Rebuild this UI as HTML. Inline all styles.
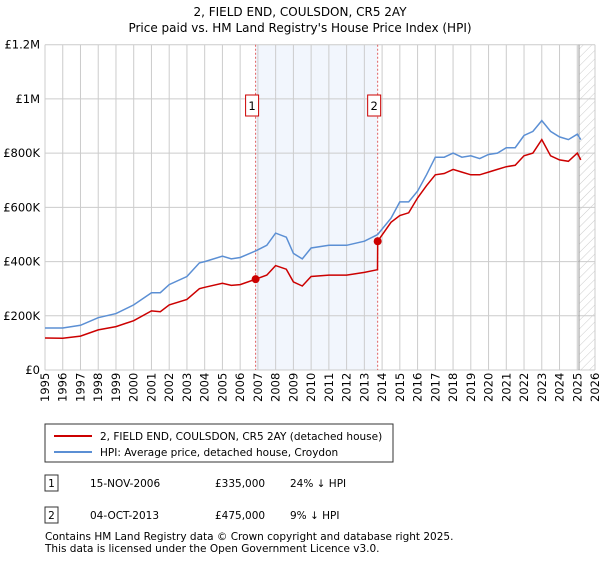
<!DOCTYPE html>
<html><head><meta charset="utf-8"><style>
body{margin:0;background:#fff;font-family:"DejaVu Sans","Liberation Sans",sans-serif;}
svg text{font-family:"DejaVu Sans","Liberation Sans",sans-serif;}
</style></head><body>
<svg width="600" height="560" id="c">
<defs><pattern id="hatch" patternUnits="userSpaceOnUse" width="6" height="6" patternTransform="rotate(45)"><line x1="0" y1="0" x2="0" y2="6" stroke="#ccc" stroke-width="1"/></pattern></defs>
<text x="300" y="16" text-anchor="middle" font-size="12">2, FIELD END, COULSDON, CR5 2AY</text>
<text x="300" y="32" text-anchor="middle" font-size="12">Price paid vs. HM Land Registry's House Price Index (HPI)</text>
<g id="grid"></g><g id="marks"></g>
<g>
<rect x="45" y="424" width="348" height="38" fill="#fff" stroke="#333"/>
<line x1="54" y1="436" x2="92" y2="436" stroke="#cc0000" stroke-width="2"/>
<text x="100" y="440" font-size="10.5">2, FIELD END, COULSDON, CR5 2AY (detached house)</text>
<line x1="54" y1="452" x2="92" y2="452" stroke="#5b8fd4" stroke-width="2"/>
<text x="100" y="456" font-size="10.5">HPI: Average price, detached house, Croydon</text>
</g>
<g font-size="10.5">
<rect x="45" y="475" width="13" height="16" fill="#fff" stroke="#333"/><text x="51.5" y="487" text-anchor="middle">1</text>
<text x="90" y="487">15-NOV-2006</text><text x="215" y="487">£335,000</text><text x="290" y="487">24% ↓ HPI</text>
<rect x="45" y="507" width="13" height="16" fill="#fff" stroke="#333"/><text x="51.5" y="519" text-anchor="middle">2</text>
<text x="90" y="519">04-OCT-2013</text><text x="215" y="519">£475,000</text><text x="290" y="519">9% ↓ HPI</text>
</g>
<text x="45" y="540" font-size="10.5">Contains HM Land Registry data © Crown copyright and database right 2025.</text>
<text x="45" y="552" font-size="10.5">This data is licensed under the Open Government Licence v3.0.</text>
</svg>
<script>
const hpiYears=[1995,1996,1997,1998,1999,2000,2001,2001.5,2002,2003,2003.7,2004,2005,2005.5,2006,2006.9,2007.5,2008,2008.6,2009,2009.5,2010,2011,2012,2013,2013.75,2014.5,2015,2015.5,2016,2016.5,2017,2017.5,2018,2018.5,2019,2019.5,2020,2020.5,2021,2021.5,2022,2022.5,2023,2023.5,2024,2024.5,2025,2025.2];
const hpiValues=[155,155,165,193,208,240,285,285,315,345,395,400,420,410,415,440,460,505,490,430,410,450,460,460,475,500,560,620,620,660,720,785,785,800,785,790,780,795,800,820,820,865,880,920,880,860,850,870,850];
const priceYears=[1995,1996,1997,1998,1999,2000,2001,2001.5,2002,2003,2003.7,2004,2005,2005.5,2006,2006.87,2007.5,2008,2008.6,2009,2009.5,2010,2011,2012,2013,2013.74,2013.75,2014.5,2015,2015.5,2016,2016.5,2017,2017.5,2018,2018.5,2019,2019.5,2020,2020.5,2021,2021.5,2022,2022.5,2023,2023.5,2024,2024.5,2025,2025.2];
const priceValues=[118,117,125,148,160,182,218,215,240,260,300,305,320,312,315,335,350,385,372,325,310,345,350,350,360,370,475,545,570,580,635,680,720,725,740,730,720,720,730,740,750,755,790,800,850,790,775,770,800,775];
const saleYears=[2006.87,2013.75];
const saleValues=[335,475];
const saleLabels=["1","2"];
const yTicks=[0,200,400,600,800,1000,1200];
const yTickLabels=["£0","£200K","£400K","£600K","£800K","£1M","£1.2M"];
const xTicks=[1995,1996,1997,1998,1999,2000,2001,2002,2003,2004,2005,2006,2007,2008,2009,2010,2011,2012,2013,2014,2015,2016,2017,2018,2019,2020,2021,2022,2023,2024,2025,2026];
const L=45,R=595,T=44.7,B=370,X0=1995,X1=2026;
const x=v=>L+(v-X0)/(X1-X0)*(R-L);
const y=v=>B-v/1200*(B-T);
const NS="http://www.w3.org/2000/svg";
function mk(p,tag,a){const e=document.createElementNS(NS,tag);for(const k in a)e.setAttribute(k,a[k]);p.appendChild(e);return e;}
const g=document.getElementById('grid'),m=document.getElementById('marks');
let sh=mk(g,'rect',{x:x(saleYears[0]),y:T,width:x(saleYears[1])-x(saleYears[0]),height:B-T,fill:'#f2f6fd'});


let hz=mk(g,'rect',{x:x(2025.1),y:T,width:R-x(2025.1),height:B-T,fill:'url(#hatch)'});


xTicks.forEach(t=>{
 const l=mk(g,'line',{x1:x(t),x2:x(t),y1:T,y2:B,stroke:'#ccc','stroke-width':1});
 
 
 const tx=mk(g,'text',{x:0,y:0,'font-size':11.5,transform:`translate(${x(t)+4},${B+32}) rotate(-90)`});
 tx.textContent=t;
 
 
});
yTicks.forEach((t,i)=>{
 const l=mk(g,'line',{x1:L,x2:R,y1:y(t),y2:y(t),stroke:'#ccc','stroke-width':1});
 
 
 const tx=mk(g,'text',{x:L-5,y:y(t)+4,'font-size':11.5,'text-anchor':'end'});
 tx.textContent=yTickLabels[i];
 
 
});
let fl=mk(g,'line',{x1:x(2025.1),x2:x(2025.1),y1:T,y2:B,stroke:'#999','stroke-width':1});


saleYears.forEach((s,i)=>{
 const l=mk(g,'line',{x1:x(s),x2:x(s),y1:T,y2:B,stroke:'#e06060','stroke-width':1,'stroke-dasharray':'2,2'});
 
 
 const bx=mk(m,'rect',{x:x(s)-10,y:95,width:13,height:21,fill:'#fff',stroke:'#cc0000'});
 
 
 const tx=mk(m,'text',{x:x(s)-3.5,y:110,'font-size':11.5,'text-anchor':'middle'});
 tx.textContent=saleLabels[i];
 
 
});
const path=(xs,vs)=>xs.map((v,i)=>(i?'L':'M')+x(v).toFixed(1)+','+y(vs[i]).toFixed(1)).join('');
let hp=mk(m,'path',{d:path(hpiYears,hpiValues),fill:'none',stroke:'#5b8fd4','stroke-width':1.5});


let pp=mk(m,'path',{d:path(priceYears,priceValues),fill:'none',stroke:'#cc0000','stroke-width':1.5});


saleYears.forEach((s,i)=>{
 const c=mk(m,'circle',{cx:x(s),cy:y(saleValues[i]),r:4,fill:'#cc0000'});
 
 
});
</script>
</body></html>
